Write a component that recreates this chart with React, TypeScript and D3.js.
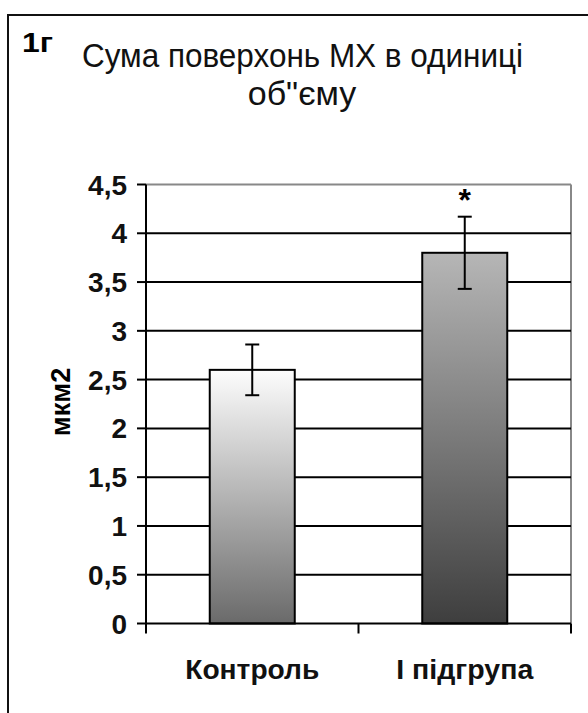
import React from "react";
import * as d3 from "d3";

const categories = ["Контроль", "I підгрупа"];
const values = [2.6, 3.8];
const errors = [0.26, 0.37];
const significance = ["", "*"];
const yTicks = [0, 0.5, 1, 1.5, 2, 2.5, 3, 3.5, 4, 4.5];
const yTickLabels = ["0", "0,5", "1", "1,5", "2", "2,5", "3", "3,5", "4", "4,5"];
const titleLines = ["Сума поверхонь МХ в одиниці", "об\"єму"];
const panelLabel = "1г";
const yAxisLabel = "мкм2";
const gradients = [
  ["#fdfdfd", "#6a6a6a"],
  ["#b6b6b6", "#3e3e3e"],
];

const W = 588;
const H = 713;
const plot = { left: 146, right: 571, top: 184.5, bottom: 623.5 };
const FONT = "'Liberation Sans', Arial, sans-serif";

export default function App() {
  const y = d3.scaleLinear().domain([0, 4.5]).range([plot.bottom, plot.top]);
  const x = d3
    .scaleBand<string>()
    .domain(categories)
    .range([plot.left, plot.right])
    .paddingInner(0.6)
    .paddingOuter(0.3);
  const step = x.step();
  const catEdges = [plot.left, plot.left + step, plot.right];
  const capW = 14;

  return (
    <svg
      width={W}
      height={H}
      style={{ position: "absolute", left: 0, top: 0, background: "#fff", overflow: "hidden" }}
      fontFamily={FONT}
    >
      <defs>
        {gradients.map((g, i) => (
          <linearGradient key={i} id={`grad${i}`} x1="0" y1="0" x2="0" y2="1">
            <stop offset="0%" stopColor={g[0]} />
            <stop offset="100%" stopColor={g[1]} />
          </linearGradient>
        ))}
      </defs>
      <rect x={0} y={0} width={W} height={H} fill="#fff" />
      {/* outer frame */}
      <rect x={8} y={15} width={W + 20} height={H + 20} fill="none" stroke="#111" strokeWidth={2} />

      {/* panel label */}
      <text x={22} y={52} fontSize={27} fontWeight="bold" fill="#000" textLength={31} lengthAdjust="spacingAndGlyphs">
        {panelLabel}
      </text>

      {/* title */}
      <text x={82} y={67} fontSize={34} fill="#111" textLength={441} lengthAdjust="spacingAndGlyphs">
        {titleLines[0]}
      </text>
      <text x={302} y={105} fontSize={34} fill="#111" textAnchor="middle">
        {titleLines[1]}
      </text>

      {/* plot border (gray) */}
      <line x1={plot.left} x2={plot.right} y1={plot.top} y2={plot.top} stroke="#888" strokeWidth={2} />
      <line x1={plot.right} x2={plot.right} y1={plot.top} y2={plot.bottom} stroke="#888" strokeWidth={2} />

      {/* gridlines */}
      {yTicks
        .filter((t) => t > 0 && t < 4.5)
        .map((t) => (
          <line key={t} x1={plot.left} x2={plot.right} y1={y(t)} y2={y(t)} stroke="#000" strokeWidth={2} />
        ))}

      {/* bars */}
      {categories.map((c, i) => {
        const bx = x(c)!;
        const bw = x.bandwidth();
        const top = y(values[i]);
        return (
          <rect
            key={c}
            x={bx}
            y={top}
            width={bw}
            height={y(0) - top}
            fill={`url(#grad${i})`}
            stroke="#000"
            strokeWidth={2}
          />
        );
      })}

      {/* error bars */}
      {categories.map((c, i) => {
        const cx = x(c)! + x.bandwidth() / 2;
        const hi = y(values[i] + errors[i]);
        const lo = y(values[i] - errors[i]);
        return (
          <g key={c} stroke="#000" strokeWidth={2}>
            <line x1={cx} x2={cx} y1={hi} y2={lo} />
            <line x1={cx - capW / 2} x2={cx + capW / 2} y1={hi} y2={hi} />
            <line x1={cx - capW / 2} x2={cx + capW / 2} y1={lo} y2={lo} />
          </g>
        );
      })}

      {/* significance */}
      {categories.map((c, i) =>
        significance[i] ? (
          <text
            key={c}
            x={x(c)! + x.bandwidth() / 2}
            y={y(values[i] + errors[i]) - 23}
            fontSize={32}
            fontWeight="bold"
            textAnchor="middle"
            fill="#000"
            dy="0.55em"
          >
            {significance[i]}
          </text>
        ) : null
      )}

      {/* y axis */}
      <line x1={plot.left} x2={plot.left} y1={plot.top} y2={plot.bottom} stroke="#000" strokeWidth={2} />
      {yTicks.map((t, i) => (
        <g key={t}>
          <line x1={plot.left - 9} x2={plot.left} y1={y(t)} y2={y(t)} stroke="#000" strokeWidth={2} />
          <text
            x={127}
            y={y(t)}
            dy="0.36em"
            fontSize={28}
            fontWeight="bold"
            textAnchor="end"
            fill="#111"
          >
            {yTickLabels[i]}
          </text>
        </g>
      ))}

      {/* x axis */}
      <line x1={plot.left} x2={plot.right} y1={plot.bottom} y2={plot.bottom} stroke="#000" strokeWidth={2} />
      {catEdges.map((ex, i) => (
        <line key={i} x1={ex} x2={ex} y1={plot.bottom} y2={plot.bottom + 10} stroke="#000" strokeWidth={2} />
      ))}
      {categories.map((c, i) => (
        <text
          key={c}
          x={x(c)! + x.bandwidth() / 2}
          y={679}
          fontSize={28}
          fontWeight="bold"
          textAnchor="middle"
          fill="#111"
          textLength={i === 0 ? 134 : 137}
          lengthAdjust="spacingAndGlyphs"
        >
          {c}
        </text>
      ))}

      {/* y axis label */}
      <text
        transform={`translate(70,402) rotate(-90)`}
        fontSize={27}
        fontWeight="bold"
        textAnchor="middle"
        fill="#000"
      >
        {yAxisLabel}
      </text>
    </svg>
  );
}
